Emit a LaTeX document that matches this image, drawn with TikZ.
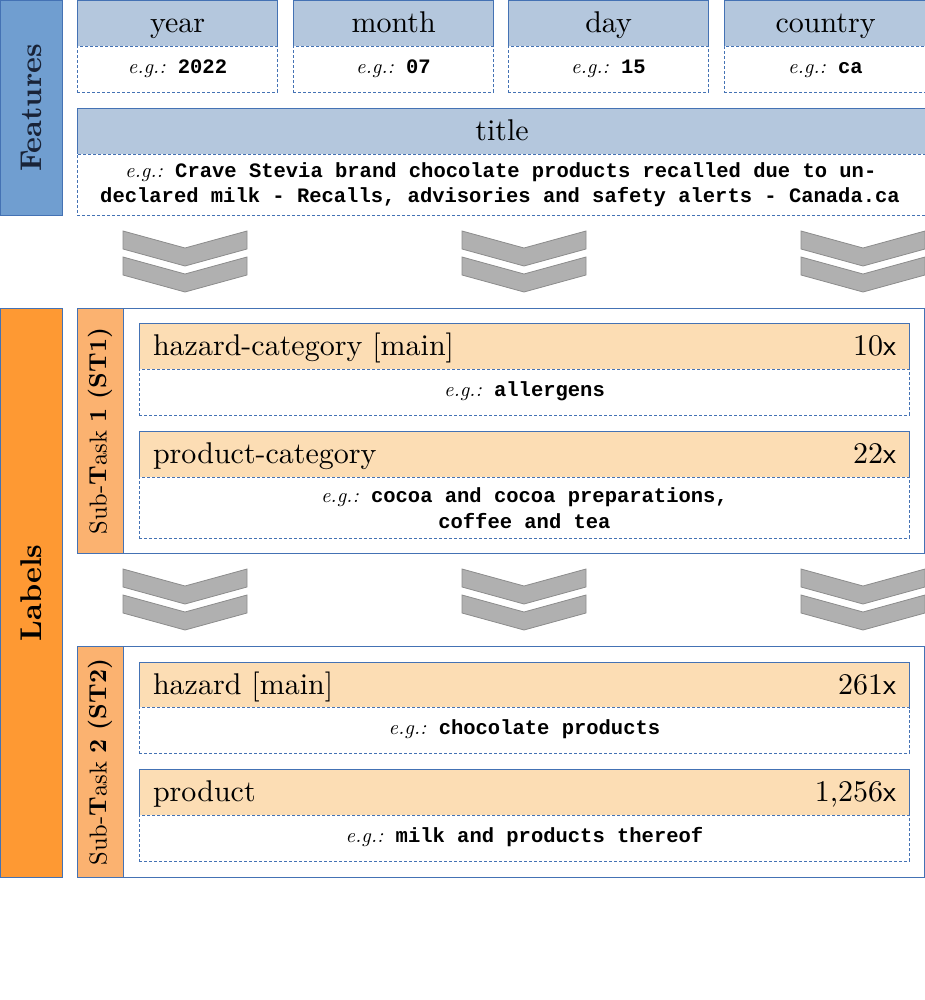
\documentclass[tikz,border=0pt]{standalone}
\usepackage{fontspec}
\setmainfont{lmroman10}[Extension=.otf, UprightFont=*-regular, BoldFont=*-bold, ItalicFont=*-italic, BoldItalicFont=*-bolditalic]
\setmonofont{Liberation Mono}
\definecolor{bord}{RGB}{68,114,180}
\definecolor{featbar}{RGB}{112,158,208}
\definecolor{fhead}{RGB}{180,199,221}
\definecolor{labbar}{RGB}{254,153,51}
\definecolor{stcol}{RGB}{251,178,112}
\definecolor{peach}{RGB}{252,221,180}
\definecolor{chevfill}{RGB}{176,176,176}
\definecolor{chevdraw}{RGB}{140,140,140}
\definecolor{feattext}{RGB}{25,35,55}
\newcommand{\egx}{{\normalfont\itshape e.g.:}}
\newcommand{\mychev}[2]{%
  \draw[chev] ({#1-62},{#2}) -- ({#1},{#2+17}) -- ({#1+62},{#2}) -- ({#1+62},{#2+18}) -- ({#1},{#2+35}) -- ({#1-62},{#2+18}) -- cycle;}
\begin{document}
\begin{tikzpicture}[x=1pt,y=-1pt,
  bar/.style={draw=bord, line width=1.2pt, anchor=north west, inner sep=0pt, minimum width=62pt},
  bartext/.style={rotate=90, font=\fontsize{30}{36}\selectfont\bfseries, inner sep=0pt},
  fhdr/.style={draw=bord, fill=fhead, line width=1.2pt, anchor=north west, inner sep=0pt,
    minimum height=46pt, text height=21pt, text depth=3pt, font=\fontsize{30}{36}\selectfont},
  lhdr/.style={draw=bord, fill=peach, line width=1.1pt, anchor=north west, inner xsep=13.5pt, inner ysep=0pt,
    minimum height=46pt, text width=743pt, text height=21pt, text depth=3pt, font=\fontsize{30}{36}\selectfont},
  ebody/.style={draw=bord, fill=white, line width=0.9pt, dash pattern=on 3pt off 2pt, anchor=north west, inner sep=0pt,
    minimum height=46pt, text height=15pt, text depth=6pt, font=\fontsize{20.5}{25}\selectfont\ttfamily\bfseries},
  egtxt/.style={inner sep=0pt, font=\fontsize{20.5}{26}\selectfont\ttfamily\bfseries},
  stbox/.style={draw=bord, fill=white, line width=1.2pt, anchor=north west, inner sep=0pt, minimum width=847pt},
  stcolumn/.style={draw=bord, fill=stcol, line width=1.2pt, anchor=north west, inner sep=0pt, minimum width=46pt},
  sttext/.style={rotate=90, font=\fontsize{24.5}{29}\selectfont, inner sep=0pt},
  chev/.style={fill=chevfill, draw=chevdraw, line width=0.8pt, line join=miter}
]
\useasboundingbox (0,0) rectangle (924,1000);

% side bars
\node[bar, fill=featbar, minimum height=215pt] (featbar) at (0,0) {};
\node[bartext, text=feattext] (feattxt) at (featbar.center) {Features};
\node[bar, fill=labbar, minimum height=569pt] (labbar) at (0,308) {};
\node[bartext] (labtxt) at (labbar.center) {Labels};

% feature boxes
\node[fhdr, minimum width=200pt] (yearH) at (77,0) {year};
\node[ebody, minimum width=200pt] (yearB) at (77,46) {\egx{} 2022};
\node[fhdr, minimum width=200pt] (monthH) at (293,0) {month};
\node[ebody, minimum width=200pt] (monthB) at (293,46) {\egx{} 07};
\node[fhdr, minimum width=200pt] (dayH) at (508,0) {day};
\node[ebody, minimum width=200pt] (dayB) at (508,46) {\egx{} 15};
\node[fhdr, minimum width=202pt] (countryH) at (724,0) {country};
\node[ebody, minimum width=202pt] (countryB) at (724,46) {\egx{} ca};

\node[fhdr, minimum width=849pt] (titleH) at (77,108) {title};
\node[ebody, minimum width=849pt, minimum height=61pt] (titleB) at (77,154) {};
\node[egtxt, anchor=base west] (titleL1) at (125,178) {\egx{} Crave Stevia brand chocolate products recalled due to un-};
\node[egtxt, anchor=base west] (titleL2) at (100,203) {declared milk - Recalls, advisories and safety alerts - Canada.ca};

% chevrons set 1
\mychev{185}{231}\mychev{185}{257}
\mychev{524}{231}\mychev{524}{257}
\mychev{863}{231}\mychev{863}{257}

% Sub-Task 1
\node[stbox, minimum height=245pt] (st1) at (77,308) {};
\node[stcolumn, minimum height=245pt] (st1col) at (77,308) {};
\node[sttext] (st1txt) at (st1col.center) {Sub-\textbf{T}ask \textbf{1 (ST1)}};
\node[lhdr] (hcH) at (139,323) {hazard-category [main]\hfill 10\textsf{x}};
\node[ebody, minimum width=770pt] (hcB) at (139,369) {\egx{} allergens};
\node[lhdr] (pcH) at (139,431) {product-category\hfill 22\textsf{x}};
\node[ebody, minimum width=770pt, minimum height=61pt] (pcB) at (139,477) {};
\node[egtxt, align=center] (pcT) at (pcB.center) {\egx{} cocoa and cocoa preparations,\\coffee and tea};

% chevrons set 2
\mychev{185}{569}\mychev{185}{595}
\mychev{524}{569}\mychev{524}{595}
\mychev{863}{569}\mychev{863}{595}

% Sub-Task 2
\node[stbox, minimum height=231pt] (st2) at (77,646) {};
\node[stcolumn, minimum height=231pt] (st2col) at (77,646) {};
\node[sttext] (st2txt) at (st2col.center) {Sub-\textbf{T}ask \textbf{2 (ST2)}};
\node[lhdr] (hzH) at (139,662) {hazard [main]\hfill 261\textsf{x}};
\node[ebody, minimum width=770pt] (hzB) at (139,707) {\egx{} chocolate products};
\node[lhdr] (prH) at (139,769) {product\hfill 1,256\textsf{x}};
\node[ebody, minimum width=770pt] (prB) at (139,815) {\egx{} milk and products thereof};
\end{tikzpicture}
\end{document}
